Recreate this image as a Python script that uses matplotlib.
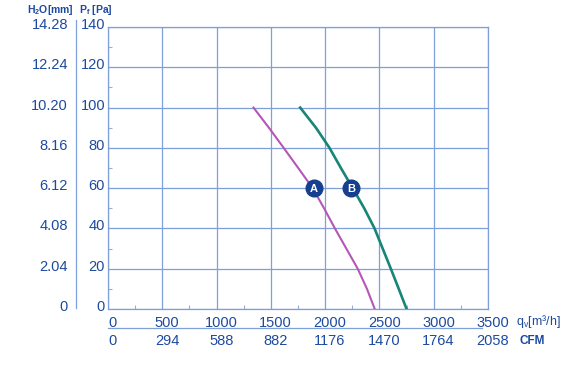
import numpy as np
import matplotlib.pyplot as plt
import matplotlib.transforms as mtransforms
from matplotlib.lines import Line2D

plt.rcParams['font.family'] = ['Liberation Sans', 'DejaVu Sans']
plt.rcParams['mathtext.default'] = 'regular'

# chart data
pa_ticks = [0, 20, 40, 60, 80, 100, 120, 140]
mm_labels = ["0", "2.04", "4.08", "6.12", "8.16", "10.20", "12.24", "14.28"]
q_ticks = [0, 500, 1000, 1500, 2000, 2500, 3000, 3500]
cfm_labels = ["0", "294", "588", "882", "1176", "1470", "1764", "2058"]

curve_a_p = [100, 90, 80, 70, 60, 50, 40, 30, 20, 10, 0]
curve_a_q = [1340, 1482, 1618, 1752, 1885, 1990, 2090, 2195, 2300, 2385, 2457]
curve_b_p = [100, 90, 80, 70, 60, 50, 40, 30, 20, 10, 0]
curve_b_q = [1770, 1915, 2040, 2145, 2254, 2360, 2455, 2530, 2605, 2678, 2750]
marker_a = (1897, 60)
marker_b = (2240, 60)

txt_col = '#1d4a9f'
grid_col = '#7f9fd8'
col_a = '#b556b8'
col_b = '#178577'

W, H = 583, 367
fig = plt.figure(figsize=(W / 100, H / 100), dpi=100)
ax = fig.add_axes([108 / W, 1 - 309 / H, 380 / W, 282 / H])
ax.set_xlim(0, 3500)
ax.set_ylim(0, 140)
ax.set_xticks(q_ticks)
ax.set_yticks(pa_ticks)
ax.set_xticks(np.arange(250, 3500, 500), minor=True)
ax.set_yticks(np.arange(10, 140, 20), minor=True)
ax.grid(True, which='major', color=grid_col, lw=0.9)
ax.tick_params(which='major', length=0, labelbottom=False, labelleft=False)
ax.tick_params(which='minor', direction='in', length=3, color='#9aaed8', width=0.8)
for s in ax.spines.values():
    s.set_color(grid_col)
    s.set_linewidth(0.9)

ax.plot(curve_a_q, curve_a_p, color=col_a, lw=1.5, zorder=3, solid_joinstyle='round')
ax.plot(curve_b_q, curve_b_p, color=col_b, lw=1.9, zorder=3, solid_joinstyle='round')
for (mx, my), lab in [(marker_a, 'A'), (marker_b, 'B')]:
    ax.plot(mx, my, 'o', ms=12, color='#173f8f', mec='#173f8f', zorder=4)
    ax.text(mx, my - 0.5, lab, color='white', fontsize=8, fontweight='bold',
            ha='center', va='center', zorder=5)

# left axis labels
ylab = mtransforms.blended_transform_factory(fig.transFigure, ax.transData)
for p, mm in zip(pa_ticks, mm_labels):
    ax.text(105 / W, p + 1, str(p), transform=ylab, ha='right', va='center',
            fontsize=10.5, color=txt_col)
    ax.text(68 / W, p + 1, mm, transform=ylab, ha='right', va='center',
            fontsize=10.5, color=txt_col)
fig.text(27 / W, 1 - 10 / H, 'H$_2$O[mm]', fontsize=7.5, fontweight='bold',
         color=txt_col, va='center', ha='left')
fig.text(79 / W, 1 - 10 / H, 'P$_f$ [Pa]', fontsize=7.5, fontweight='bold',
         color=txt_col, va='center', ha='left')
fig.add_artist(Line2D([76 / W, 76 / W], [1 - 20 / H, 1 - 308 / H],
                      color=grid_col, lw=0.9))

# bottom axis labels
xlab = mtransforms.blended_transform_factory(ax.transData, fig.transFigure)
for q, cfm in zip(q_ticks, cfm_labels):
    ax.text(q + 45, 1 - 323 / H, str(q), transform=xlab, ha='center', va='center',
            fontsize=10.5, color=txt_col)
    ax.text(q + 45, 1 - 341 / H, cfm, transform=xlab, ha='center', va='center',
            fontsize=10.5, color=txt_col)
fig.text(516 / W, 1 - 322 / H, 'q$_v$[m³/h]', fontsize=9, color=txt_col,
         va='center', ha='left')
fig.text(520 / W, 1 - 341 / H, 'CFM', fontsize=8.5, fontweight='bold',
         color=txt_col, va='center', ha='left')
fig.add_artist(Line2D([108 / W, 482 / W], [1 - 328 / H, 1 - 328 / H],
                      color=grid_col, lw=0.9))

fig.savefig('out.png', dpi=100)
